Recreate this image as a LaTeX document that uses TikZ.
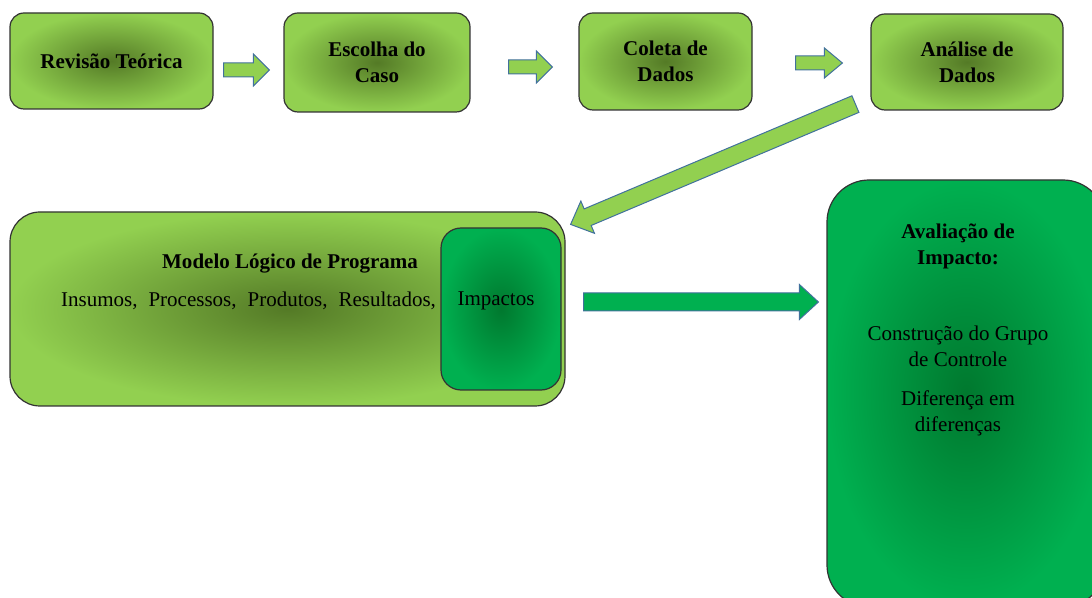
\documentclass[tikz,border=0pt]{standalone}
\usepackage{fontspec}
\setmainfont{Liberation Serif}
\usepackage{tikz}
\usetikzlibrary{shapes,arrows,calc}

\definecolor{lgreen}{RGB}{146,208,80}
\definecolor{lgdark}{RGB}{84,122,38}
\definecolor{dgreen}{RGB}{0,176,80}
\definecolor{dgdark}{RGB}{0,120,46}
\definecolor{arrowline}{RGB}{65,113,156}

% block arrow: start, end, half shaft, half head, head length (pt), fill
\newcommand{\blockarrow}[6]{%
	\path [draw=arrowline, fill=#6, line width=0.5pt, line join=miter]
		let \p1=($(#2)-(#1)$), \n1={atan2(\y1,\x1)}, \n2={veclen(\x1,\y1)}, \n3={\n2-#5} in
		[shift={(#1)}, rotate=\n1]
		(0pt,#3pt) -- (\n3,#3pt) -- (\n3,#4pt) -- (\n2,0pt)
		-- (\n3,-#4pt) -- (\n3,-#3pt) -- (0pt,-#3pt) -- cycle;}

\begin{document}
\begin{tikzpicture}[x=0.5pt, y=-0.5pt, font=\fontsize{10.5}{13}\selectfont,
	stepbox/.style={draw=black!80, line width=0.6pt, rounded corners=7pt, inner color=lgdark, outer color=lgreen, align=center, inner sep=0pt, font=\fontsize{10.5}{13}\selectfont\bfseries},
	darkbox/.style={draw=black!80, line width=0.6pt, inner color=dgdark, outer color=dgreen, inner sep=0pt}]
	\useasboundingbox (0,0) rectangle (1092,598);
	\clip (0,0) rectangle (1092,598);

	% top row
	\node [stepbox, minimum width=101.5pt, minimum height=48pt] (rev) at (111.5,61) {Revisão Teórica};
	\node [stepbox, minimum width=93pt, minimum height=49.5pt] (esc) at (377,62.5) {Escolha do\\Caso};
	\node [stepbox, minimum width=86.5pt, minimum height=48.5pt] (col) at (665.5,61.5) {Coleta de\\Dados};
	\node [stepbox, minimum width=96pt, minimum height=48pt] (ana) at (967,62) {Análise de\\Dados};

	% logic model
	\node [stepbox, rounded corners=15pt, minimum width=277.5pt, minimum height=97pt] (modelo) at (287.5,309) {};
	\node [darkbox, rounded corners=10pt, minimum width=60pt, minimum height=81pt] (imp) at (501,309) {};
	\node [font=\fontsize{10.5}{13}\selectfont\bfseries] (modtit) at ($(modelo.north)+(2.5,52)$) {Modelo Lógico de Programa};
	\node [anchor=east, inner sep=0pt] (insumos) at ($(imp.west)+(-4,-8)$) {Insumos,\hspace{5.5pt}Processos,\hspace{5.5pt}Produtos,\hspace{5.5pt}Resultados,};
	\node (impt) at ($(imp.center)+(-5,-8)$) {Impactos};

	% impact evaluation
	\node [darkbox, rounded corners=21pt, minimum width=139pt, minimum height=213.5pt] (aval) at (966,393.5) {};
	\node [align=center, font=\fontsize{10.5}{13}\selectfont\bfseries] (avt1) at ($(aval.north)+(-8,67.5)$) {Avaliação de\\Impacto:};
	\node [align=center] (avt2) at ($(aval.north)+(-8,167)$) {Construção do Grupo\\de Controle};
	\node [align=center] (avt3) at ($(aval.north)+(-8,234)$) {Diferença em\\diferenças};

	% arrows
	\coordinate (a1s) at ($(rev.east)+(10,9)$);
	\coordinate (a1e) at ($(a1s -| esc.west)+(-14,0)$);
	\coordinate (a2s) at ($(esc.east)+(38,4.5)$);
	\coordinate (a2e) at ($(a2s -| col.west)+(-26,0)$);
	\coordinate (a3s) at ($(col.east)+(43,1.5)$);
	\coordinate (a3e) at ($(a3s -| ana.west)+(-28,0)$);
	\coordinate (a4s) at ($(ana.south west)+(-15,-6.5)$);
	\coordinate (a4e) at ($(modelo.north east)+(5,13)$);
	\coordinate (a5s) at ($(modelo.east)+(18,-7)$);
	\coordinate (a5e) at ($(a5s -| aval.west)+(-8,0)$);

	\blockarrow{a1s}{a1e}{3.5}{8}{8}{lgreen}
	\blockarrow{a2s}{a2e}{3.5}{8}{8}{lgreen}
	\blockarrow{a3s}{a3e}{3.5}{7.5}{9}{lgreen}
	\blockarrow{a4s}{a4e}{4.5}{8.75}{9.25}{lgreen}
	\blockarrow{a5s}{a5e}{4.5}{8.75}{9.5}{dgreen}

\end{tikzpicture}
\end{document}
